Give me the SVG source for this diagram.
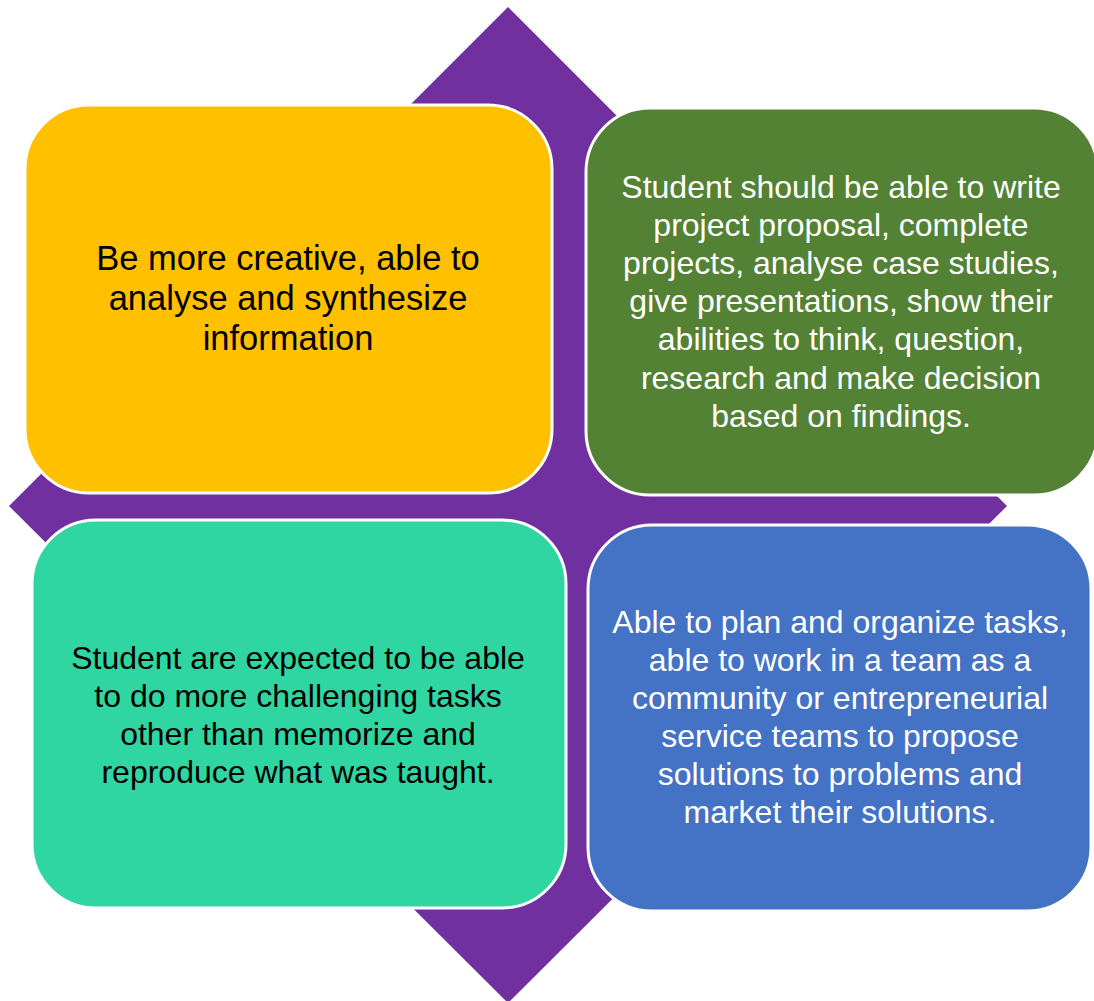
<svg xmlns="http://www.w3.org/2000/svg" width="1094" height="1001" viewBox="0 0 1094 1001">
<style>
.box{stroke:#fff;stroke-width:3}
.t{font-family:"Liberation Sans",Arial,sans-serif;font-size:32px;text-anchor:middle}
.big{font-size:34.5px}
.dark{fill:#000}
.light{fill:#fff}
</style>
<rect width="1094" height="1001" fill="#fff"/>
<g id="diamond"><polygon points="508,7 1007,506 508,1003 9,506" fill="#7030a0"/></g>
<g id="connectors"></g>
<g id="node-yellow">
<rect class="box" x="25" y="105" width="527" height="388" rx="64" fill="#ffc000"/>
<text class="t big dark" x="288" y="270">Be more creative, able to</text>
<text class="t big dark" x="288" y="310">analyse and synthesize</text>
<text class="t big dark" x="288" y="350">information</text>
</g>
<g id="node-green">
<rect class="box" x="586" y="108" width="512" height="387" rx="64" fill="#548235"/>
<text class="t light" x="841" y="198">Student should be able to write</text>
<text class="t light" x="841" y="236">project proposal, complete</text>
<text class="t light" x="841" y="274">projects, analyse case studies,</text>
<text class="t light" x="841" y="312">give presentations, show their</text>
<text class="t light" x="841" y="350">abilities to think, question,</text>
<text class="t light" x="841" y="389">research and make decision</text>
<text class="t light" x="841" y="427">based on findings.</text>
</g>
<g id="node-teal">
<rect class="box" x="32" y="520" width="534" height="388" rx="64" fill="#2fd6a1"/>
<text class="t dark" x="298" y="669">Student are expected to be able</text>
<text class="t dark" x="298" y="707">to do more challenging tasks</text>
<text class="t dark" x="298" y="745">other than memorize and</text>
<text class="t dark" x="298" y="783">reproduce what was taught.</text>
</g>
<g id="node-blue">
<rect class="box" x="588" y="525" width="503" height="386" rx="64" fill="#4472c4"/>
<text class="t light" x="840" y="633">Able to plan and organize tasks,</text>
<text class="t light" x="840" y="671">able to work in a team as a</text>
<text class="t light" x="840" y="709">community or entrepreneurial</text>
<text class="t light" x="840" y="747">service teams to propose</text>
<text class="t light" x="840" y="785">solutions to problems and</text>
<text class="t light" x="840" y="823">market their solutions.</text>
</g>
</svg>
